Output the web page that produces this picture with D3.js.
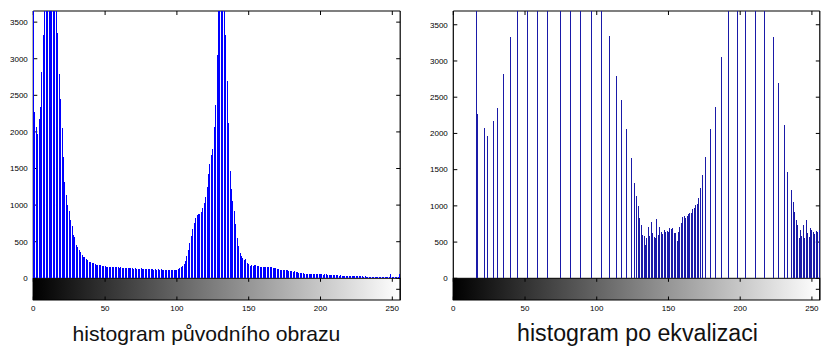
<!DOCTYPE html>
<html><head><meta charset="utf-8">
<script src="https://cdn.jsdelivr.net/npm/d3@7"></script>
<style>body{margin:0;background:#fff}svg{display:block}</style>
</head><body>
<script>
// ---------- data ----------
const bins = d3.range(256);
// original image histogram (counts per grey level 0..255)
const originalCounts = [
6000,2270,2070,1970,2175,2345,2822,3325,3900,4400,4900,5200,5300,5100,4800,4300,
3800,3345,2793,2455,2057,1660,1318,1138,1000,920,800,720,592,570,455,433,
387,364,319,296,287,260,250,228,228,205,210,190,186,182,178,175,
172,165,170,160,158,155,150,160,152,148,155,150,145,148,140,146,
138,142,136,140,134,138,132,136,130,133,128,134,127,130,125,128,
124,127,122,126,120,124,118,122,117,121,116,120,115,118,114,117,
113,118,114,120,115,125,135,150,170,200,240,310,390,480,580,680,
760,830,860,872,880,900,960,1030,1105,1250,1426,1560,1679,1771,2061,2369,
3053,4000,4600,5200,4900,4100,3330,2690,2116,1463,1219,1058,920,736,552,440,
350,300,275,250,262,213,191,173,182,172,180,175,170,172,158,155,
156,152,150,152,148,150,149,146,140,136,132,127,120,118,120,115,
112,109,105,100,95,91,96,84,82,78,70,68,66,62,59,60,
56,55,58,56,55,59,52,55,57,53,50,55,52,48,45,46,
44,45,41,43,40,38,40,36,38,35,36,33,35,32,30,31,
28,30,27,28,25,27,24,25,22,24,21,22,20,21,19,20,
18,19,17,18,16,18,15,16,15,55,15,14,14,13,14,60
];
// equalized histogram: occupied output levels and their counts
const equalizedLevels = [16,17,22,24,28,31,35,40,45,52,59,66,75,82,89,96,103,109,114,117,121,124,126,128,
129,130,131,132,133,134,135,136,137,138,139,140,141,142,143,144,145,146,147,148,149,150,
151,152,153,154,155,156,157,158,159,160,161,162,163,164,165,166,167,168,169,170,171,
172,174,176,179,183,187,192,198,204,211,217,223,227,231,233,236,237,238,239,240,
241,242,243,244,245,246,247,248,249,250,251,252,253,254,255];
const equalizedCounts = [6000,2270,2070,1970,2175,2345,2822,3325,3900,4400,4900,5200,5300,5100,4800,4300,3800,3345,2793,2455,2057,1660,1318,1138,
1000,837,736,598,589,460,552,713,589,782,621,575,552,819,598,713,644,607,667,644,653,635,
690,676,699,621,621,515,635,713,759,851,865,837,865,884,897,897,957,975,1012,1022,1105,
1250,1426,1679,2061,2369,3053,4600,5200,4900,4100,4000,3330,2690,2116,1463,1219,1058,920,805,736,
561,667,580,736,552,805,621,575,690,667,644,607,653,640,667];
const xTicks = [0,50,100,150,200,250];
const yTicks = [0,500,1000,1500,2000,2500,3000,3500];
const titles = ["histogram původního obrazu","histogram po ekvalizaci"];

// ---------- drawing ----------
const svg = d3.select("body").append("svg").attr("width",832).attr("height",351);
const defs = svg.append("defs");
const grad = defs.append("linearGradient").attr("id","gray").attr("x1","0").attr("x2","1").attr("y1","0").attr("y2","0");
grad.append("stop").attr("offset","0").attr("stop-color","#000");
grad.append("stop").attr("offset","1").attr("stop-color","#fff");

function panel(cfg){
  const x = d3.scaleLinear().domain([0,255.5]).range([cfg.x0,cfg.x1]);
  const y = d3.scaleLinear().domain([0,cfg.ymax]).range([cfg.yZero,cfg.yTop]);
  const g = svg.append("g");
  const cbBottom = cfg.yZero + 21.7;
  // colorbar
  g.append("rect").attr("x",cfg.x0).attr("y",cfg.yZero).attr("width",cfg.x1-cfg.x0)
    .attr("height",cbBottom-cfg.yZero).attr("fill","url(#gray)").attr("stroke","#000").attr("stroke-width",1);
  // axes box lines
  const box = g.append("g").attr("stroke","#000").attr("stroke-width",1.2).attr("fill","none");
  box.append("line").attr("x1",cfg.x0).attr("x2",cfg.x1).attr("y1",cfg.yTop).attr("y2",cfg.yTop);
  box.append("line").attr("x1",cfg.x0).attr("x2",cfg.x0).attr("y1",cfg.yTop).attr("y2",cbBottom);
  box.append("line").attr("x1",cfg.x1).attr("x2",cfg.x1).attr("y1",cfg.yTop).attr("y2",cbBottom);
  // ticks
  const tk = g.append("g").attr("stroke","#000").attr("stroke-width",1);
  xTicks.forEach(t=>{
    const xx = x(t);
    tk.append("line").attr("x1",xx).attr("x2",xx).attr("y1",cfg.yTop).attr("y2",cfg.yTop+4);
    tk.append("line").attr("x1",xx).attr("x2",xx).attr("y1",cfg.yZero).attr("y2",cfg.yZero+3.5);
    tk.append("line").attr("x1",xx).attr("x2",xx).attr("y1",cbBottom).attr("y2",cbBottom-3.5);
  });
  yTicks.forEach(t=>{
    const yy = y(t);
    tk.append("line").attr("x1",cfg.x0).attr("x2",cfg.x0+4).attr("y1",yy).attr("y2",yy);
    tk.append("line").attr("x1",cfg.x1).attr("x2",cfg.x1-4).attr("y1",yy).attr("y2",yy);
  });
  tk.append("line").attr("x1",cfg.x1).attr("x2",cfg.x1-4).attr("y1",cfg.yZero+11).attr("y2",cfg.yZero+11);
  // stems
  g.append("g").attr("shape-rendering","crispEdges").selectAll("line")
    .data(cfg.levels.map((l,i)=>[l,cfg.counts[i]])).join("line")
    .attr("x1",d=>x(d[0])).attr("x2",d=>x(d[0]))
    .attr("y1",cfg.yZero).attr("y2",d=>y(Math.min(d[1],cfg.ymax)))
    .attr("stroke",cfg.color).attr("stroke-width",cfg.sw);
  // labels
  const lab = g.append("g").attr("font-family","Liberation Sans, Arial, sans-serif").attr("font-size",8).attr("fill","#000");
  yTicks.forEach(t=>{
    lab.append("text").attr("x",cfg.x0-5.5).attr("y",y(t)).attr("dy","0.35em").attr("text-anchor","end").text(t);
  });
  xTicks.forEach(t=>{
    lab.append("text").attr("x",x(t)).attr("y",cbBottom+10.5).attr("text-anchor","middle").text(t);
  });
  const tt = g.append("text").attr("x",cfg.titleX).attr("y",341).attr("text-anchor","middle")
    .attr("font-family","Liberation Sans, Arial, sans-serif").attr("font-size",20).attr("fill","#111").text(cfg.title);
  const w = tt.node().getComputedTextLength();
  tt.attr("font-size", 20*cfg.titleW/w);
}

panel({x0:33.3,x1:400.2,yTop:11,yZero:278.3,ymax:3652,levels:bins,counts:originalCounts,
  color:"#0000ff",sw:1,title:titles[0],titleX:206.5,titleW:268});
panel({x0:453.3,x1:819.8,yTop:11,yZero:278.3,ymax:3690,levels:equalizedLevels,counts:equalizedCounts,
  color:"#1a1aa8",sw:1,title:titles[1],titleX:637.5,titleW:241});
</script>
</body></html>
